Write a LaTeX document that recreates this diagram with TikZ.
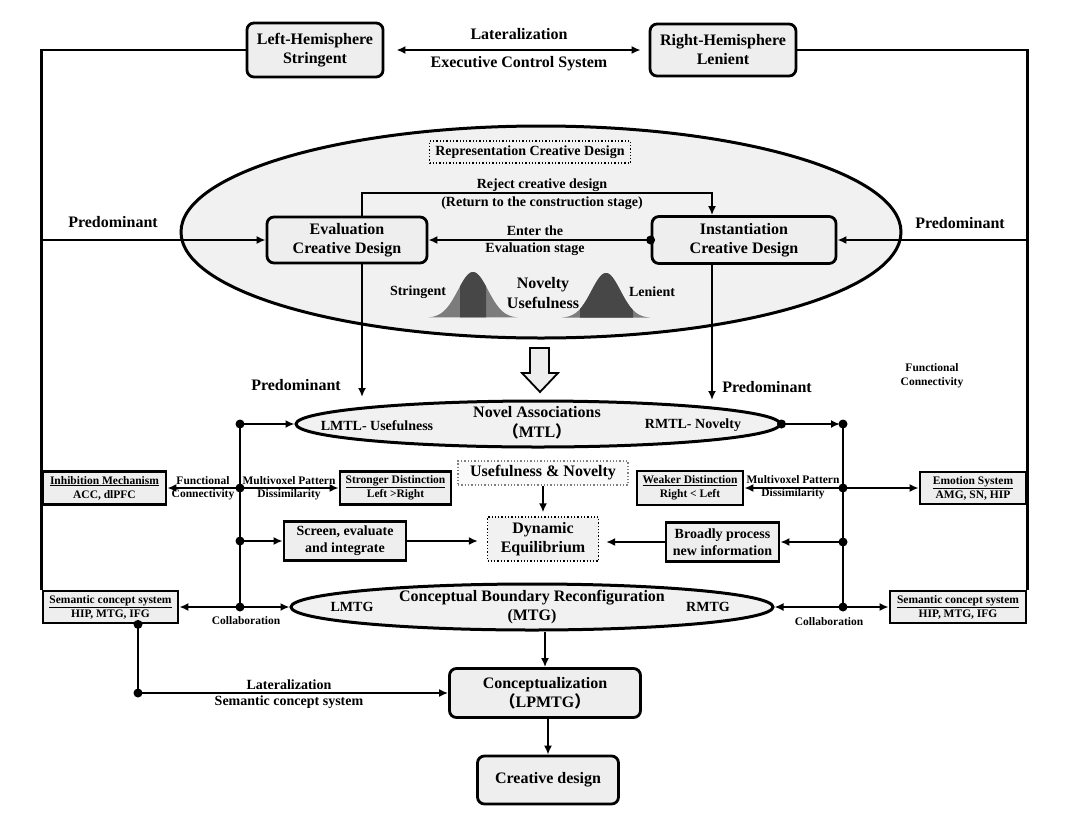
\documentclass[tikz,border=0pt]{standalone}
\usepackage{fontspec}
\setmainfont{Liberation Serif}
\newfontfamily\cjk{Noto Sans CJK SC}
\usepackage{xcolor}
\usetikzlibrary{shapes.geometric,arrows.meta,positioning,calc}

\definecolor{boxgray}{HTML}{EEEEEE}
\definecolor{ellgray}{HTML}{F1F1F1}
\definecolor{bellgray}{HTML}{7C7C7C}
\definecolor{belldark}{HTML}{474747}

\tikzset{
    big/.style={font=\fontsize{16}{19}\selectfont\bfseries},
    mid/.style={font=\fontsize{14}{17}\selectfont\bfseries},
    small/.style={font=\fontsize{11.5}{14}\selectfont\bfseries},
    rbox/.style={draw, line width=2.8pt, rounded corners=7pt, fill=boxgray, align=center, inner sep=0pt},
    sbox/.style={draw, line width=2.8pt, fill=boxgray, align=center, inner sep=0pt},
    dbox/.style={draw, dotted, line width=1.3pt, fill=ellgray, align=center, inner sep=0pt},
    ellip/.style={ellipse, draw, line width=3pt, fill=ellgray, inner sep=0pt},
    con/.style={line width=2.5pt},
    arr/.style={line width=2.5pt, -{Latex[length=9pt,width=8pt]}},
    dblarr/.style={line width=2.5pt, {Latex[length=9pt,width=8pt]}-{Latex[length=9pt,width=8pt]}},
}

\begin{document}
\begin{tikzpicture}[x=1pt, y=-1pt]
    \useasboundingbox (0,0) rectangle (1080,820);

    % hemispheres
    \node[rbox, big, inner xsep=10pt, minimum height=54] (lh) at (315,50) {Left-Hemisphere\\Stringent};
    \node[rbox, big, inner xsep=10pt, minimum height=52] (rh) at (723,50) {Right-Hemisphere\\Lenient};
    \draw[dblarr, shorten <=12pt, shorten >=8pt] (lh.east) -- (rh.west);
    \node[big] (latt) at (519,34) {Lateralization};
    \node[big] (exec) at (519,64) {Executive Control System};

    % representation stage
    \node[ellip, minimum width=720, minimum height=212] (repell) at (541,232) {};
    \node[dbox, mid, minimum width=201, minimum height=22] (rep) at (530,152) {Representation Creative Design};
    \node[rbox, big, minimum width=160, minimum height=46] (eval) at (347,240) {Evaluation\\Creative Design};
    \node[rbox, big, minimum width=184, minimum height=47] (inst) at (744,240) {Instantiation\\Creative Design};
    \node[mid] (rejt) at (542,185) {Reject creative design};
    \node[mid] (rejb) at (542,203) {(Return to the construction stage)};
    \node[mid] (entt) at (535,231) {Enter the};
    \node[mid] (entb) at (535,249) {Evaluation stage};

    % bell curves
    \fill[bellgray] plot[domain=-45:45, samples=60] ({473+\x},{318-46*exp(-0.5*(\x/15)^2)}) -- cycle;
    \begin{scope}
        \clip (460,260) rectangle (486,320);
        \fill[belldark] plot[domain=-45:45, samples=60] ({473+\x},{318-46*exp(-0.5*(\x/15)^2)}) -- cycle;
    \end{scope}
    \fill[bellgray] plot[domain=-44:44, samples=60] ({606+\x},{318-45*exp(-0.5*(\x/14.5)^2)}) -- cycle;
    \begin{scope}
        \clip (580,260) rectangle (633,320);
        \fill[belldark] plot[domain=-44:44, samples=60] ({606+\x},{318-45*exp(-0.5*(\x/14.5)^2)}) -- cycle;
    \end{scope}
    \node[mid] (strg) at (418,292) {Stringent};
    \node[mid] (lent) at (652,292) {Lenient};
    \node[big, align=center, font=\fontsize{16}{20}\selectfont\bfseries] (novuse) at (543,293) {Novelty\\Usefulness};

    % hollow arrow
    \draw[line width=1.8pt, fill=boxgray] (530,348) -- (549,348) -- (549,373) -- (558,373)
        -- (540,392) -- (522,373) -- (530,373) -- cycle;

    % MTL and MTG
    \node[ellip, minimum width=484, minimum height=46] (mtl) at (538,424) {};
    \node[big, align=center, font=\fontsize{16}{20}\selectfont\bfseries] (mtlt) at (537,423) {Novel Associations\\{\cjk （}MTL{\cjk ）}};
    \node[mid] (lmtl) at (377,426) {LMTL- Usefulness};
    \node[mid] (rmtl) at (693,425) {RMTL- Novelty};

    \node[ellip, minimum width=482, minimum height=46] (mtg) at (532,607) {};
    \node[big, align=center] (mtgt) at (532,607) {Conceptual Boundary Reconfiguration\\(MTG)};
    \node[mid] (lmtg) at (352,607) {LMTG};
    \node[mid] (rmtg) at (708,607) {RMTG};

    % side boxes
    \node[sbox, small, minimum width=123, minimum height=33] (inhib) at (104.5,488) {\underline{Inhibition Mechanism}\\ACC, dlPFC};
    \node[sbox, small, minimum width=111, minimum height=33] (strong) at (395.5,488) {\underline{Stronger Distinction}\\Left >Right};
    \node[sbox, small, minimum width=106, minimum height=34] (weak) at (690,488) {\underline{Weaker Distinction}\\Right < Left};
    \node[sbox, small, minimum width=106, minimum height=32] (emo) at (973,488) {\underline{Emotion System}\\AMG, SN, HIP};
    \node[sbox, mid, minimum width=122, minimum height=39] (screen) at (345,541) {Screen, evaluate\\and integrate};
    \node[sbox, mid, minimum width=113, minimum height=39] (broad) at (722.5,542) {Broadly process\\new information};
    \node[dbox, big, draw=gray, fill=white!60!ellgray, minimum width=170, minimum height=24] (usenov) at (543,473) {Usefulness \& Novelty};
    \node[dbox, big, minimum width=111, minimum height=44] (dyn) at (543,539) {Dynamic\\Equilibrium};
    \node[sbox, small, minimum width=135, minimum height=32] (semL) at (110.5,607) {\underline{Semantic concept system}\\HIP, MTG, IFG};
    \node[sbox, small, minimum width=136, minimum height=32] (semR) at (958,607) {\underline{Semantic concept system}\\HIP, MTG, IFG};

    % conceptualization
    \node[rbox, big, minimum width=191, minimum height=49] (concept) at (545,693) {Conceptualization\\{\cjk （}LPMTG{\cjk ）}};
    \node[rbox, big, minimum width=141, minimum height=48] (creative) at (548,780) {Creative design};

    % outer loops
    \draw[con] (lh.west) -| (semL.north west);
    \draw[con] (rh.east) -| (semR.north east);
    \draw[arr] (semL.north west |- eval.west) -- (eval.west);
    \draw[arr] (semR.north east |- inst.east) -- (inst.east);
    \node[big] (predl) at (113,222) {Predominant};
    \node[big] (predr) at (960,223) {Predominant};

    % inside the ellipse
    \coordinate (rej) at (540,193);
    \draw[arr] ([xshift=15pt]eval.north) |- (rej) -| ([xshift=-32pt]inst.north);
    \draw[arr] (inst.west) -- (eval.east);
    \fill (inst.west) circle (4.5pt);

    % predominant downward
    \coordinate (pdl) at (362,397);
    \coordinate (pdr) at (712,400);
    \draw[arr] (eval.south -| pdl) -- (pdl);
    \draw[arr] (inst.south -| pdr) -- (pdr);
    \node[big] (predbl) at (296,385) {Predominant};
    \node[big] (predbr) at (767,387) {Predominant};

    % left junctions
    \coordinate (j1) at (240,424);
    \coordinate (j2) at (240,488);
    \coordinate (j3) at (240,541);
    \coordinate (j4) at (240,607);
    \draw[con] (j1) -- (j4);
    \draw[arr] (j1) -- (mtl.west);
    \draw[arr] (j2) -- (inhib.east);
    \draw[arr] (j2) -- (strong.west);
    \draw[arr] (j3) -- (screen.west);
    \draw[arr] (j4) -- (semL.east);
    \draw[arr] (j4) -- (mtg.west);
    \foreach \p in {j1,j2,j3,j4} \fill (\p) circle (4.5pt);
    \node[small] (fcl) at (203,481) {Functional};
    \node[small] (fcl2) at (203,495) {Connectivity};
    \node[small] (mvl) at (289,481) {Multivoxel Pattern};
    \node[small] (mvl2) at (289,495) {Dissimilarity};
    \node[small] (colL) at (246,621) {Collaboration};

    % right junctions
    \coordinate (k1) at (843,424);
    \coordinate (k2) at (843,488);
    \coordinate (k3) at (843,542);
    \coordinate (k4) at (843,607);
    \draw[arr, shorten >=3pt] (mtl.east) -- (k1);
    \fill (mtl.east) circle (4.5pt);
    \draw[con] (k1) -- (k4);
    \draw[arr] (k2) -- (weak.east);
    \draw[arr] (k2) -- (emo.west);
    \draw[arr] (k3) -- (broad.east);
    \draw[arr] (k4) -- (mtg.east);
    \draw[arr] (k4) -- (semR.west);
    \foreach \p in {k1,k2,k3,k4} \fill (\p) circle (4.5pt);
    \node[small] (mvr) at (793,480) {Multivoxel Pattern};
    \node[small] (mvr2) at (793,494) {Dissimilarity};
    \node[small] (colR) at (829,622) {Collaboration};
    \node[small, align=center] (fcr) at (932,376) {Functional\\Connectivity};

    % dynamic equilibrium
    \draw[arr, shorten >=4pt] (usenov) -- (dyn);
    \draw[arr, shorten >=9pt] (screen.east) -- (screen.east -| dyn.west);
    \draw[arr, shorten >=7pt] (broad.west) -- (broad.west -| dyn.east);

    % conceptualization
    \draw[arr] (mtg.south -| concept.north) -- (concept.north);
    \draw[arr] (concept.south -| creative.north) -- (creative.north);
    \coordinate (latc) at (138,693);
    \draw[arr] (semL.south -| latc) -- (latc) -- (concept.west);
    \fill (semL.south -| latc) circle (4.5pt);
    \fill (latc) circle (4.5pt);
    \node[mid] (latb) at (289,685) {Lateralization};
    \node[mid] (semb) at (289,702) {Semantic concept system};
\end{tikzpicture}
\end{document}
